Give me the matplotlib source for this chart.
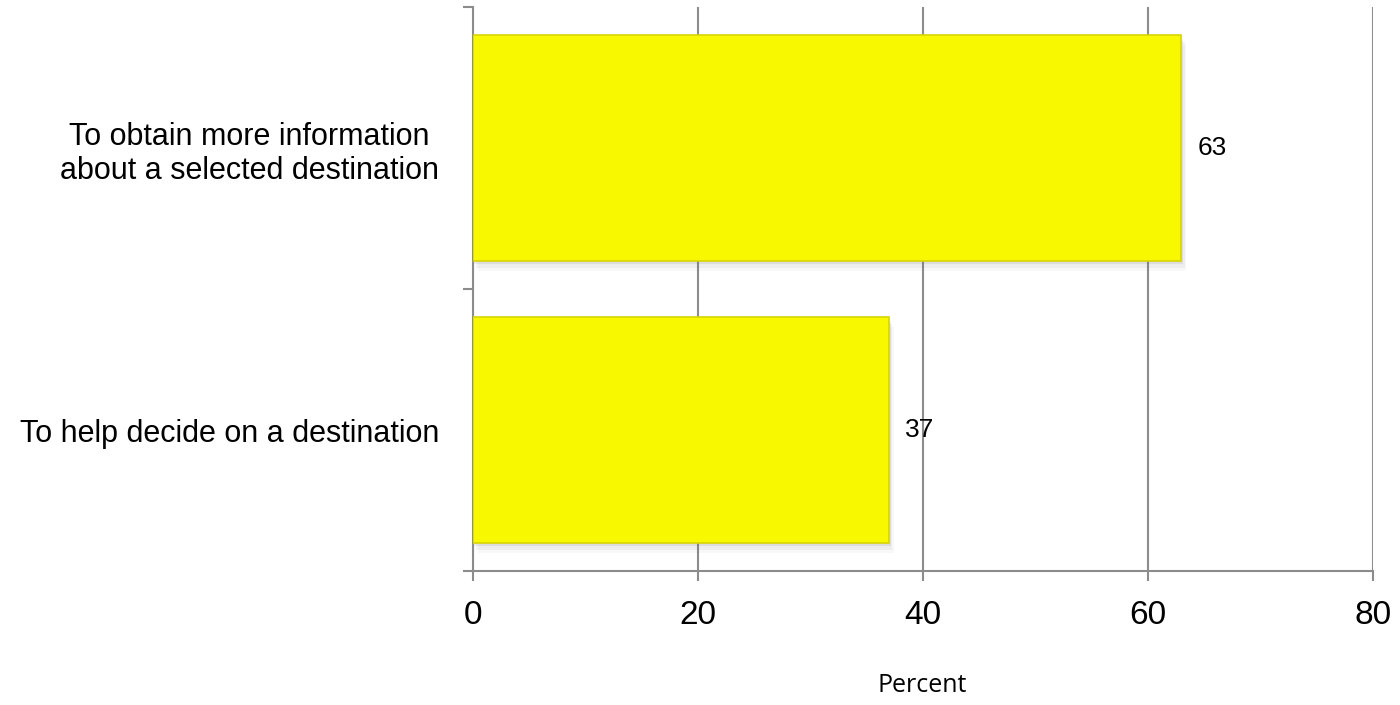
import matplotlib
matplotlib.use("Agg")
import matplotlib.pyplot as plt
import numpy as np

# ~~~~~~~~~~~~~~~~~~~~ DATA ~~~~~~~~~~~~~~~~~~~~
categories = ["To help decide on a destination",
              "To obtain more information\nabout a selected destination"]
values = [37, 63]
xticks = [0, 20, 40, 60, 80]

bar_color = "#f8f800"
grid_color = "#8c8c8c"

fig = plt.figure(figsize=(14, 7.05), dpi=100)
ax = fig.add_axes([0.3375, 0.19, 0.643, 0.80])

y = np.arange(len(categories))
h = 0.8

# soft drop shadow under each bar (Excel style)
for k, a in enumerate([0.10, 0.07, 0.04]):
    ax.barh(y - 0.012 * (k + 1), values, height=h, left=0.15 * (k + 1),
            color="#606060", alpha=a, zorder=2, linewidth=0)
ax.barh(y, values, height=h, color=bar_color, edgecolor="#d8d400",
        linewidth=1.2, zorder=3)

for yi, v in zip(y, values):
    ax.text(v + 1.4, yi, str(v), va="center", ha="left", fontsize=19,
            family=["Liberation Sans", "DejaVu Sans"], zorder=4)

ax.set_xlim(0, 80)
ax.set_ylim(-0.5, len(categories) - 0.5)
ax.set_xticks(xticks)
ax.set_xticklabels([str(t) for t in xticks], fontsize=24,
                   family=["Liberation Sans", "DejaVu Sans"])
ax.set_yticks(y)
ax.set_yticklabels(categories, fontsize=22,
                   family=["Liberation Sans Narrow", "Liberation Sans", "DejaVu Sans"],
                   multialignment="center")
ax.set_yticks(np.arange(len(categories) + 1) - 0.5, minor=True)

ax.tick_params(axis="y", which="major", length=0, pad=24)
ax.tick_params(axis="y", which="minor", length=7, width=1.5, color=grid_color)
ax.tick_params(axis="x", length=7, width=1.5, color=grid_color, pad=14)

ax.grid(axis="x", color=grid_color, linewidth=1.5, zorder=1)
ax.set_axisbelow(True)
for s in ["top", "right"]:
    ax.spines[s].set_visible(False)
for s in ["left", "bottom"]:
    ax.spines[s].set_color(grid_color)
    ax.spines[s].set_linewidth(1.5)

ax.set_xlabel("Percent", fontsize=18, family=["Open Sans", "DejaVu Sans"],
              labelpad=30)

fig.savefig("out.png", dpi=100)
